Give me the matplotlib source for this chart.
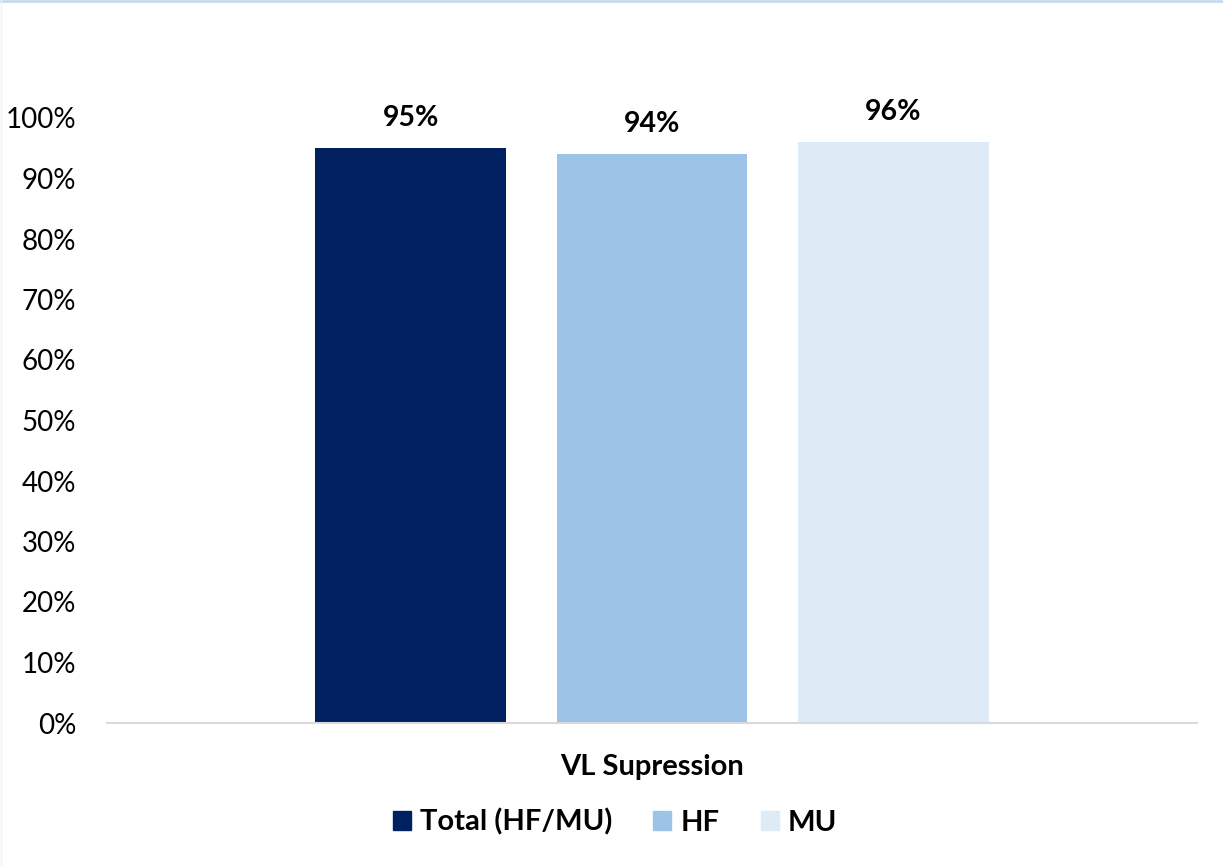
import matplotlib.pyplot as plt
import numpy as np
from matplotlib.patches import Patch

plt.rcParams['font.family'] = ['Lato', 'DejaVu Sans']

category = "VL Supression"
series = ["Total (HF/MU)", "HF", "MU"]
values = [0.95, 0.94, 0.96]
labels = ["95%", "94%", "96%"]
colors = ["#002060", "#9DC3E6", "#DEEBF7"]

fig = plt.figure(figsize=(12.23, 8.66), dpi=100)
ax = fig.add_axes([107/1223, 1-723/866, 1090/1223, (723-118)/866])

# bars in one category group
bar_w = 0.175
step = 0.2215
x = np.arange(len(series)) * step - step
for i in range(len(series)):
    ax.bar(x[i], values[i], width=bar_w, color=colors[i], zorder=2)
    ax.text(x[i], values[i] + 0.028, labels[i], ha="center", va="bottom",
            fontsize=20.5, fontweight="bold", color="black", clip_on=False)

ax.set_xlim(-0.5, 0.5)
ax.set_ylim(0, 1)
ax.set_yticks(np.arange(0, 1.01, 0.1))
ax.set_yticklabels([f"{int(round(v*100))}%" for v in np.arange(0, 1.01, 0.1)], fontsize=20)
ax.set_xticks([0])
ax.set_xticklabels([category], fontsize=21, fontweight="bold")
ax.tick_params(axis="both", length=0)
ax.tick_params(axis="y", pad=22)
ax.tick_params(axis="x", pad=22)
for side in ["top", "right", "left"]:
    ax.spines[side].set_visible(False)
ax.spines["bottom"].set_color("#d9d9d9")
ax.spines["bottom"].set_linewidth(1.5)

handles = [Patch(color=c, label=s) for c, s in zip(colors, series)]
fig.legend(handles=handles, loc="center", bbox_to_anchor=(615/1223, 1-822/866),
           ncol=3, frameon=False, prop={"size": 21, "weight": "bold"},
           handlelength=0.62, handleheight=0.62, handletextpad=0.32, columnspacing=1.4)

# thin light frame like the source chart
fig.add_artist(plt.Line2D([0, 1], [0.999, 0.999], color="#c5dcf0", lw=2, transform=fig.transFigure))
fig.add_artist(plt.Line2D([0.001, 0.001], [0, 1], color="#eef4fa", lw=1, transform=fig.transFigure))

fig.savefig("out.png", dpi=100, facecolor="white")
